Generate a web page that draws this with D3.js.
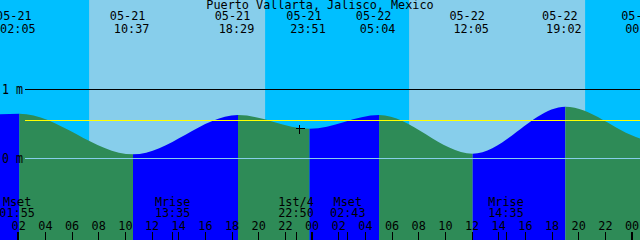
<!DOCTYPE html>
<html>
<head>
<meta charset="utf-8">
<script src="https://cdn.jsdelivr.net/npm/d3@7"></script>
<style>
  html, body { margin: 0; padding: 0; background: #fff; }
  svg { display: block; }
  text { font-family: 'DejaVu Sans Mono', monospace; font-size: 11.8px; fill: #000; }
</style>
</head>
<body>
<svg id="chart"></svg>
<script>
const title = 'Puerto Vallarta, Jalisco, Mexico';

// high and low tides: time, level in metres
const tideTimes = ['05-21 02:05', '05-21 10:37', '05-21 18:29', '05-21 23:51',
                   '05-22 05:04', '05-22 12:05', '05-22 19:02', '05-23 00:58'];
const tideLevels = [0.65, 0.06, 0.63, 0.43, 0.63, 0.07, 0.75, 0.27];

// curve level read at the left and right edges of the picture
const edgeTimes = ['05-21 00:38', '05-23 00:38'];
const edgeLevels = [0.64, 0.29];

const sunriseTimes = ['05-21 07:19', '05-22 07:19'];
const sunsetTimes = ['05-21 20:31', '05-22 20:31'];

const moonTimes = ['05-21 01:55', '05-21 13:35', '05-21 22:50', '05-22 02:43', '05-22 14:35'];
const moonLabels = ['Mset', 'Mrise', '1st/4', 'Mset', 'Mrise'];

const levelTicks = [1, 0];
const meanLevel = 0.55;
const markTime = '05-21 23:05';
const markLevel = 0.44;

const parseTime = d3.utcParse('%m-%d %H:%M');

class TideChart {

  constructor(_config) {
    this.config = {
      parentElement: _config.parentElement,
      containerWidth: _config.containerWidth || 640,
      containerHeight: _config.containerHeight || 240,
      start: _config.start,
      end: _config.end
    };
    this.initVis();
  }

  initVis() {
    let vis = this;
    vis.width = vis.config.containerWidth;
    vis.height = vis.config.containerHeight;

    vis.xScale = d3.scaleUtc()
      .domain([vis.config.start, vis.config.end])
      .range([0, vis.width]);

    vis.yScale = d3.scaleLinear()
      .domain([0, 1])
      .range([158.5, 89.5]);

    vis.svg = d3.select(vis.config.parentElement)
      .attr('width', vis.width)
      .attr('height', vis.height);

    vis.sky = vis.svg.append('g');
    vis.water = vis.svg.append('g');
    vis.levels = vis.svg.append('g');
    vis.labels = vis.svg.append('g');
    vis.axisG = vis.svg.append('g')
      .attr('transform', `translate(0,${vis.height})`);
  }

  updateVis() {
    let vis = this;

    vis.tides = tideTimes.map((t, i) => ({ time: parseTime(t), level: tideLevels[i] }));
    vis.curve = vis.tides
      .concat(edgeTimes.map((t, i) => ({ time: parseTime(t), level: edgeLevels[i] })))
      .sort((a, b) => a.time - b.time);

    // rising / falling stretches between consecutive points
    vis.segments = d3.pairs(vis.curve).map(([a, b]) => ({
      from: a.time, to: b.time, rising: b.level > a.level
    }));

    vis.days = sunriseTimes.map((t, i) => ({ rise: parseTime(t), set: parseTime(sunsetTimes[i]) }));
    vis.moon = moonTimes.map((t, i) => ({ time: parseTime(t), label: moonLabels[i] }));

    vis.renderVis();
  }

  renderVis() {
    let vis = this;
    const x = vis.xScale, y = vis.yScale;

    // night background, day bands on top
    vis.sky.append('rect')
      .attr('width', vis.width).attr('height', vis.height)
      .attr('fill', '#00bfff');
    vis.sky.selectAll('.day')
      .data(vis.days)
      .join('rect')
      .attr('class', 'day')
      .attr('x', d => x(d.rise))
      .attr('width', d => x(d.set) - x(d.rise))
      .attr('height', vis.height)
      .attr('fill', '#87ceeb');

    const area = d3.area()
      .x(d => x(d.time))
      .y0(vis.height)
      .y1(d => y(d.level))
      .curve(d3.curveMonotoneX);

    const defs = vis.svg.append('defs');
    vis.segments.forEach((s, i) => {
      defs.append('clipPath').attr('id', `seg${i}`)
        .append('rect')
        .attr('x', x(s.from)).attr('width', x(s.to) - x(s.from))
        .attr('height', vis.height);
      vis.water.append('path')
        .attr('d', area(vis.curve))
        .attr('clip-path', `url(#seg${i})`)
        .attr('fill', s.rising ? '#0000ff' : '#2e8b57');
    });

    // level lines
    vis.levels.selectAll('.grid')
      .data(levelTicks)
      .join('line')
      .attr('class', 'grid')
      .attr('x1', 25).attr('x2', vis.width)
      .attr('y1', d => y(d)).attr('y2', d => y(d))
      .attr('stroke', d => d === 0 ? '#87ceeb' : '#000')
      .attr('shape-rendering', 'crispEdges');
    vis.levels.append('line')
      .attr('x1', 25).attr('x2', vis.width)
      .attr('y1', y(meanLevel)).attr('y2', y(meanLevel))
      .attr('stroke', '#ffff00')
      .attr('shape-rendering', 'crispEdges');

    vis.levels.selectAll('.ylabel')
      .data(levelTicks)
      .join('text')
      .attr('class', 'ylabel')
      .attr('x', 2).attr('y', d => y(d) + 4.5)
      .attr('textLength', 21).attr('lengthAdjust', 'spacingAndGlyphs')
      .style('font-size', '14px')
      .text(d => `${d} m`);

    // marker
    const mx = Math.round(x(parseTime(markTime))) + 0.5, my = Math.round(y(markLevel)) + 0.5;
    vis.levels.append('path')
      .attr('d', `M${mx - 4},${my}H${mx + 5}M${mx},${my - 4}V${my + 5}`)
      .attr('stroke', '#000')
      .attr('shape-rendering', 'crispEdges');

    // title and tide labels
    vis.labels.append('text')
      .attr('x', vis.width / 2).attr('y', 9)
      .attr('text-anchor', 'middle')
      .text(title);

    const tideLabel = vis.labels.selectAll('.tide')
      .data(vis.tides)
      .join('g')
      .attr('class', 'tide')
      .attr('transform', d => `translate(${x(d.time)},0)`);
    tideLabel.append('text')
      .attr('x', -5.5).attr('y', 20)
      .attr('text-anchor', 'middle')
      .text(d => d3.utcFormat('%m-%d')(d.time));
    tideLabel.append('text')
      .attr('x', -1.5).attr('y', 33)
      .attr('text-anchor', 'middle')
      .text(d => d3.utcFormat('%H:%M')(d.time));

    // moon events
    const moonLabel = vis.labels.selectAll('.moon')
      .data(vis.moon)
      .join('g')
      .attr('class', 'moon')
      .attr('transform', d => `translate(${x(d.time)},0)`);
    moonLabel.append('text')
      .attr('y', 206).attr('text-anchor', 'middle')
      .text(d => d.label);
    moonLabel.append('text')
      .attr('y', 217).attr('text-anchor', 'middle')
      .text(d => d3.utcFormat('%H:%M')(d.time));
    moonLabel.append('line')
      .attr('x1', 0).attr('x2', 0)
      .attr('y1', 232).attr('y2', 240)
      .attr('stroke', '#000')
      .attr('shape-rendering', 'crispEdges');

    // hour axis
    const axis = d3.axisTop(x)
      .ticks(d3.utcHour.every(2))
      .tickFormat(d3.utcFormat('%H'))
      .tickSize(8)
      .tickPadding(2);
    vis.axisG.call(axis);
    vis.axisG.select('.domain').remove();
    vis.axisG.attr('font-family', null).attr('font-size', null);
    vis.axisG.selectAll('.tick line')
      .attr('stroke', '#000')
      .attr('shape-rendering', 'crispEdges')
      .attr('stroke-width', d => d.getUTCHours() === 0 ? 2 : 1);
    vis.axisG.selectAll('.tick text').attr('dy', null).attr('fill', '#000');
  }
}

const chart = new TideChart({
  parentElement: '#chart',
  start: parseTime(edgeTimes[0]),
  end: parseTime(edgeTimes[1])
});
chart.updateVis();
</script>
</body>
</html>
